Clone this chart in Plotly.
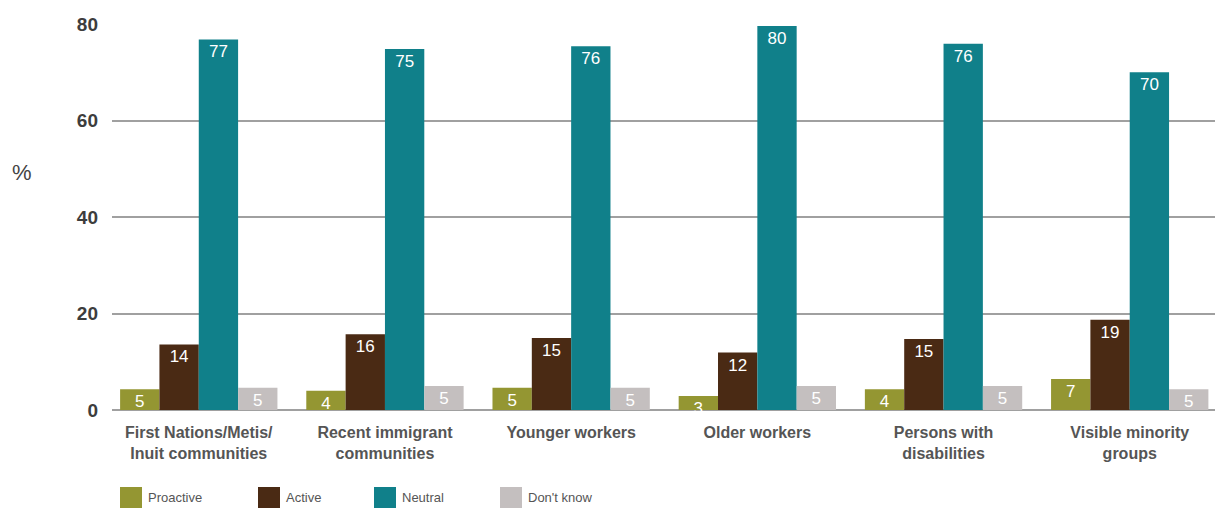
import plotly.graph_objects as go

categories = ["First Nations/Metis/<br>Inuit communities", "Recent immigrant<br>communities",
              "Younger workers", "Older workers", "Persons with<br>disabilities",
              "Visible minority<br>groups"]
series_names = ["Proactive", "Active", "Neutral", "Don't know"]
proactive = [4.3, 4.0, 4.6, 2.9, 4.3, 6.4]
active = [13.6, 15.7, 14.9, 11.9, 14.7, 18.7]
neutral = [76.8, 74.8, 75.4, 79.6, 75.9, 70.0]
dont_know = [4.6, 5.0, 4.6, 5.0, 5.0, 4.3]
proactive_lbl = ["5", "4", "5", "3", "4", "7"]
active_lbl = ["14", "16", "15", "12", "15", "19"]
neutral_lbl = ["77", "75", "76", "80", "76", "70"]
dont_know_lbl = ["5", "5", "5", "5", "5", "5"]
y_ticks = [0, 20, 40, 60, 80]

colors = ["#949632", "#4a2a14", "#10808a", "#c4bfbf"]
values = [proactive, active, neutral, dont_know]
labels = [proactive_lbl, active_lbl, neutral_lbl, dont_know_lbl]

fig = go.Figure()
for name, vals, lbls, col in zip(series_names, values, labels, colors):
    fig.add_trace(go.Bar(
        x=categories, y=vals, name=name, text=lbls,
        marker=dict(color=col, line=dict(width=0)),
        textposition="inside", insidetextanchor="end", textangle=0,
        constraintext="none", cliponaxis=False,
        textfont=dict(color="white", size=17, family="Liberation Sans, Arial"),
        showlegend=False,
    ))

W, H = 1215, 508
ml, mr, mt, mb = 112, 0, 24, 98
pw = W - ml - mr
ph = H - mt - mb

shapes = []
annotations = []
leg_x = [120, 258, 374, 500]
for i, (name, col) in enumerate(zip(series_names, colors)):
    x0 = (leg_x[i] - ml) / pw
    x1 = (leg_x[i] + 22 - ml) / pw
    shapes.append(dict(type="rect", xref="paper", yref="paper", x0=x0, x1=x1,
                       y0=(H - 508 - mb) / ph, y1=(H - 487 - mb) / ph,
                       fillcolor=col, line=dict(width=0)))
    annotations.append(dict(xref="paper", yref="paper", x=(leg_x[i] + 26 - ml) / pw,
                            y=(H - 498 - mb) / ph, xanchor="left", yanchor="middle",
                            text=name, showarrow=False,
                            font=dict(size=13, color="#555555", family="Liberation Sans, Arial")))

annotations.append(dict(xref="paper", yref="paper", x=(22 - ml) / pw, y=(H - 172 - mb) / ph,
                        xanchor="center", yanchor="middle", text="%", showarrow=False,
                        font=dict(size=22, color="#444444", family="Liberation Sans, Arial")))

fig.update_layout(
    width=W, height=H,
    margin=dict(l=ml, r=mr, t=mt, b=mb, pad=0),
    plot_bgcolor="white", paper_bgcolor="white",
    barmode="group", bargap=0.155, bargroupgap=0,
    shapes=shapes, annotations=annotations,
    xaxis=dict(range=[-0.466, 5.458], showgrid=False, showline=False, zeroline=False,
               ticks="", ticklabelstandoff=11,
               tickfont=dict(size=16, color="#555555", family="Liberation Sans, Arial",
                             weight="bold")),
    yaxis=dict(range=[0, 80], tickvals=y_ticks, showgrid=True, gridcolor="#a0a0a0",
               gridwidth=1.6, zeroline=True, zerolinecolor="#a0a0a0", zerolinewidth=1.6,
               showline=False, ticks="", ticklabelstandoff=13,
               tickfont=dict(size=19, color="#3d3d3d", family="Liberation Sans, Arial",
                             weight="bold")),
)

fig.write_html("out.html")
